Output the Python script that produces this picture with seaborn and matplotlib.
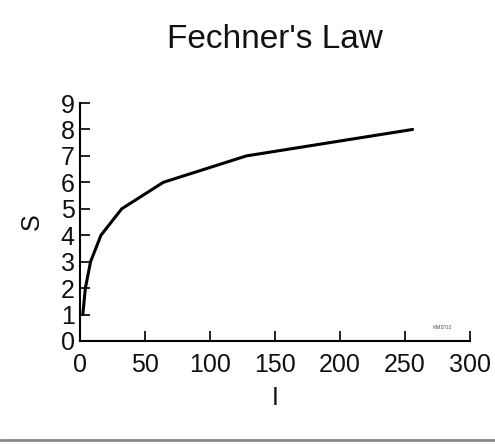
import pandas as pd
import matplotlib
matplotlib.use('Agg')
import matplotlib.pyplot as plt
import seaborn as sns

# Datos: intensidad del estímulo (I) y sensación (S)
intensidad = [2, 4, 8, 16, 32, 64, 128, 256]
sensacion = [1, 2, 3, 4, 5, 6, 7, 8]
x_ticks = [0, 50, 100, 150, 200, 250, 300]
y_ticks = [0, 1, 2, 3, 4, 5, 6, 7, 8, 9]

df = pd.DataFrame({'I': intensidad, 'S': sensacion})

sns.set_style('white')
plt.rcParams['font.family'] = ['Liberation Sans', 'DejaVu Sans']
plt.rcParams['text.color'] = '#111111'
plt.rcParams['axes.labelcolor'] = '#111111'
plt.rcParams['xtick.color'] = '#111111'
plt.rcParams['ytick.color'] = '#111111'

fig = plt.figure(figsize=(4.95, 4.44), dpi=100)
ax = fig.add_axes([0.162, 0.232, 0.787, 0.536])

sns.lineplot(x='I', y='S', data=df, color='black', linewidth=2.2, ax=ax)

ax.set_xlim(0, 300)
ax.set_ylim(0, 9)
ax.set_xticks(x_ticks)
ax.set_yticks(y_ticks)
ax.tick_params(direction='in', length=7, width=1.3,
               labelsize=18, bottom=True, left=True)
ax.tick_params(axis='x', pad=9)
ax.tick_params(axis='y', pad=4)
sns.despine(ax=ax)
for s in ['left', 'bottom']:
    ax.spines[s].set_color('black')
    ax.spines[s].set_linewidth(1.5)

ax.set_xlabel('I', fontsize=18, labelpad=6)
ax.set_ylabel('S', fontsize=18, labelpad=12)
fig.text(0.555, 0.91, "Fechner's Law", fontsize=24, ha='center', va='center')
ax.text(0.93, 0.045, "KMS'02", fontsize=4, color='#555555',
        ha='center', va='bottom', transform=ax.transAxes)

# línea gris del borde inferior
fig.add_artist(plt.Line2D([0, 1], [0.008, 0.008], transform=fig.transFigure,
                          color='#888888', linewidth=2))

fig.savefig('out.png', dpi=100)
